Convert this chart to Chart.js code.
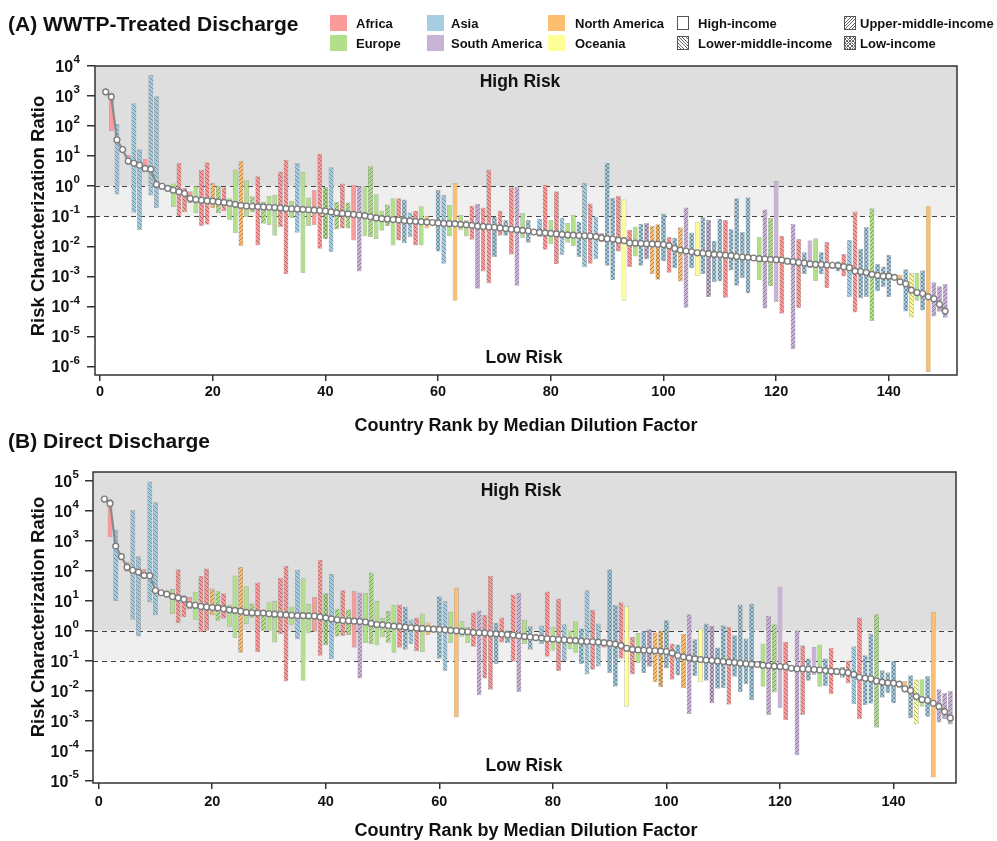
<!DOCTYPE html>
<html>
<head>
<meta charset="utf-8">
<script src="https://cdn.jsdelivr.net/npm/chart.js@4.4.0/dist/chart.umd.min.js"></script>
<style>
  body{margin:0;background:#fff;width:997px;height:841px;position:relative;overflow:hidden;font-family:"Liberation Sans",Arial,sans-serif;color:#111;}
  canvas{position:absolute;left:0;}
  .ttl{position:absolute;left:8px;font-weight:bold;font-size:21px;line-height:22px;white-space:nowrap;z-index:2;}
  .ytl{position:absolute;font-weight:bold;font-size:18.5px;line-height:20px;white-space:nowrap;transform:translate(-50%,-50%) rotate(-90deg);z-index:2;}
  .xtl{position:absolute;font-weight:bold;font-size:18px;line-height:20px;white-space:nowrap;transform:translate(-50%,-50%);z-index:2;}
  .lg{position:absolute;z-index:3;}
  .sw{position:absolute;}
  .lt{position:absolute;font-family:"Liberation Sans",Arial,sans-serif;font-weight:bold;font-size:13px;line-height:15px;white-space:nowrap;transform:translateY(-50%);}
</style>
</head>
<body>
<canvas id="cA" width="997" height="420" style="top:0"></canvas>
<canvas id="cB" width="997" height="421" style="top:420px"></canvas>

<div class="ttl" style="top:13px">(A) WWTP-Treated Discharge</div>
<div class="ttl" style="top:430px">(B) Direct Discharge</div>
<div class="ytl" style="left:38px;top:216px">Risk Characterization Ratio</div>
<div class="ytl" style="left:38px;top:617px">Risk Characterization Ratio</div>
<div class="xtl" style="left:526px;top:425px">Country Rank by Median Dilution Factor</div>
<div class="xtl" style="left:526px;top:830px">Country Rank by Median Dilution Factor</div>
<div id="legend" class="lg" style="left:0;top:0;width:997px;height:60px"></div>

<script>
// ---------------- DATA ----------------
const continentNames = {AF:'Africa', EU:'Europe', AS:'Asia', SA:'South America', NA:'North America', OC:'Oceania'};
const incomeNames = {H:'High-income', LM:'Lower-middle-income', UM:'Upper-middle-income', L:'Low-income'};

// continent of the country at each rank (rank 1..150)
const continent = [
'AF','AF','AS','AS','AF','AS','AS','AF','AS','AS',
'EU','EU','EU','AF','AF','AF','EU','AF','AF','NA',
'EU','AF','EU','EU','NA','EU','EU','AF','EU','EU',
'EU','AF','AF','EU','AS','EU','EU','AF','AF','EU',
'AS','EU','AF','EU','AF','SA','EU','EU','EU','EU',
'EU','EU','AF','AS','AS','AF','EU','NA','EU','AS',
'AS','EU','NA','EU','EU','AF','SA','AF','AF','AS',
'AF','AS','AF','SA','EU','AS','AS','AS','AF','EU',
'AF','AS','EU','EU','AS','AS','AF','AS','AF','AS',
'AS','AF','OC','AF','EU','AS','SA','NA','NA','AS',
'AF','AS','NA','SA','AS','OC','AS','SA','AS','AS',
'AF','AS','AS','AS','AS','AS','EU','SA','EU','SA',
'AF','AF','SA','AF','AS','SA','EU','AS','AF','AS',
'AS','AF','AS','AF','AS','AS','EU','AS','AS','AS',
'AS','NA','AS','OC','EU','AS','NA','SA','SA','SA'];

// income group at each rank: H high, LM lower-middle, UM upper-middle, L low
const income = [
'H','H','LM','H','H','LM','LM','H','LM','LM',
'H','H','H','LM','LM','H','H','LM','LM','UM',
'UM','LM','H','H','UM','H','UM','LM','UM','H',
'H','LM','LM','H','LM','H','H','H','LM','L',
'LM','UM','LM','UM','H','UM','H','UM','H','H',
'UM','H','LM','L','LM','LM','H','H','H','L',
'LM','H','H','H','H','LM','UM','LM','LM','L',
'LM','L','LM','UM','H','L','H','LM','LM','H',
'LM','LM','H','H','L','LM','LM','LM','H','L',
'L','LM','H','LM','H','L','L','UM','L','L',
'LM','L','UM','UM','L','H','L','L','L','L',
'LM','L','L','L','L','H','H','UM','UM','H',
'LM','H','UM','LM','L','H','H','L','LM','H',
'L','LM','LM','LM','L','L','UM','L','L','L',
'H','H','L','LM','H','L','H','UM','UM','UM'];

// (A) WWTP-treated discharge
const medianA = [
1380,940,35,16.6,6.9,5.8,5.0,3.9,3.7,1.15,
1.0,0.85,0.74,0.65,0.57,0.39,0.36,0.34,0.33,0.32,
0.30,0.29,0.27,0.25,0.23,0.22,0.215,0.21,0.205,0.20,
0.195,0.19,0.18,0.178,0.175,0.17,0.165,0.16,0.155,0.15,
0.14,0.13,0.125,0.12,0.115,0.11,0.105,0.096,0.088,0.083,
0.081,0.078,0.075,0.072,0.070,0.068,0.066,0.064,0.062,0.060,
0.058,0.057,0.056,0.054,0.052,0.050,0.047,0.046,0.044,0.043,
0.041,0.039,0.037,0.036,0.034,0.033,0.030,0.029,0.028,0.027,
0.026,0.025,0.024,0.0235,0.023,0.0225,0.022,0.021,0.019,0.018,
0.0175,0.016,0.0155,0.013,0.0128,0.0125,0.0122,0.012,0.0118,0.0115,
0.0105,0.0085,0.0075,0.0070,0.0066,0.0061,0.0059,0.0057,0.0054,0.0053,
0.0051,0.0049,0.0046,0.0044,0.0043,0.0041,0.0039,0.0038,0.0037,0.0036,
0.0035,0.0032,0.0031,0.0029,0.0028,0.0026,0.0025,0.0025,0.0024,0.00234,
0.00229,0.0021,0.00195,0.0015,0.00145,0.00135,0.00117,0.00108,0.00102,0.00102,
0.00093,0.00066,0.00057,0.00035,0.00029,0.00027,0.00021,0.00018,0.000118,0.00007];
const lowA = [
null,71,0.54,null,5.3,0.135,0.036,3.5,0.5,0.19,
null,null,0.21,0.10,0.14,0.28,0.13,0.049,0.054,0.19,
0.13,0.15,0.076,0.028,0.0105,0.095,0.14,0.011,0.058,0.053,
0.023,0.045,0.0012,0.09,0.029,0.0013,0.049,0.053,0.0085,0.018,
0.0066,0.037,0.04,0.04,0.016,0.0015,0.022,0.021,0.018,0.034,
0.049,0.011,0.016,0.013,0.021,0.011,0.011,0.04,null,0.0069,
0.0027,0.022,0.00016,0.035,0.022,0.017,0.0004,0.0015,0.0006,0.0045,
0.023,0.023,0.0054,0.0005,0.019,0.0135,null,0.021,0.0079,0.012,
0.0026,0.0053,0.0135,0.0105,0.0045,0.0021,0.0027,0.0038,0.014,0.0023,
0.00076,0.0069,0.00016,0.0021,0.0047,0.0023,0.0038,0.0012,0.0008,0.0033,
0.00135,0.0019,0.0007,0.000093,0.0019,0.00105,0.0012,0.00021,0.00066,0.0007,
0.0002,0.0016,0.0005,0.0009,0.00028,null,0.00076,0.000087,0.00048,0.000145,
0.000059,null,0.0000039,0.000091,0.0012,0.0019,0.00072,0.0012,0.00042,null,
0.0015,0.00102,0.00021,0.000065,0.00019,0.00021,0.000034,0.00033,0.00046,0.00021,
null,0.00052,0.00007,0.000044,0.00016,0.000076,0.00000068,0.000048,0.000068,0.000043];
const highA = [
null,1290,115,null,10.7,560,16.6,8,4900,960,
null,null,1.2,5.8,0.85,0.66,1.0,3.4,6.1,1.26,
1.0,0.9,0.39,3.5,6.9,1.55,0.45,2.1,0.30,0.46,
0.50,3.0,7.4,0.32,5.8,2.9,0.41,0.73,11.7,0.92,
4.2,0.29,1.2,0.28,1.1,1.0,1.0,4.5,0.53,0.15,
0.24,0.39,0.39,0.35,0.13,0.15,0.21,0.10,null,0.74,
0.5,0.23,1.25,0.11,0.074,0.22,0.25,0.19,3.5,0.095,
0.15,0.074,0.9,0.95,0.126,0.074,null,0.081,1.1,0.074,
0.66,0.089,0.058,0.11,0.066,1.25,0.26,0.096,0.027,5.8,
0.40,0.47,0.35,0.035,0.045,0.054,0.058,0.047,0.053,0.12,
0.02,0.019,0.042,0.19,0.028,0.063,0.092,0.076,0.015,0.081,
0.073,0.037,0.39,0.029,0.42,null,0.02,0.165,0.087,1.48,
0.022,null,0.055,0.017,0.0062,0.0155,0.018,0.0062,0.0135,null,
0.0031,0.0054,0.016,0.14,0.0081,0.043,0.18,0.0025,0.0021,0.0051,
null,0.0011,0.0017,0.00126,0.00126,0.00155,0.22,0.00062,0.00046,0.00055];

// (B) Direct discharge
const medianB = [
25000,17800,670,300,133,105,91,71,69,22,
18.6,16.7,14,12.6,11.2,7.4,7.1,6.5,6.2,6.0,
5.8,5.4,5.0,4.8,4.5,4.1,4.0,3.9,3.9,3.7,
3.6,3.5,3.4,3.3,3.2,3.2,3.15,3.1,2.9,2.7,
2.5,2.34,2.2,2.16,2.1,2.05,1.96,1.76,1.62,1.58,
1.5,1.43,1.40,1.33,1.26,1.23,1.2,1.17,1.13,1.11,
1.08,1.03,1.0,0.95,0.93,0.88,0.86,0.84,0.81,0.79,
0.77,0.74,0.72,0.68,0.65,0.62,0.59,0.57,0.54,0.53,
0.51,0.50,0.48,0.47,0.45,0.44,0.43,0.42,0.40,0.38,
0.36,0.32,0.26,0.24,0.23,0.226,0.22,0.215,0.21,0.204,
0.18,0.15,0.135,0.125,0.116,0.11,0.105,0.102,0.097,0.094,
0.09,0.087,0.083,0.079,0.077,0.075,0.071,0.069,0.066,0.064,
0.063,0.056,0.054,0.054,0.052,0.051,0.049,0.047,0.045,0.044,
0.043,0.040,0.035,0.028,0.026,0.025,0.021,0.0194,0.0183,0.0178,
0.0166,0.0116,0.0102,0.0064,0.0051,0.0048,0.0038,0.0030,0.0020,0.00124];
const lowB = [
null,1350,10.2,null,95,2.4,0.66,55,9.1,3.4,
null,null,3.7,1.85,2.9,5.4,2.4,0.91,1.02,3.4,
2.2,2.6,1.39,0.59,0.19,1.7,2.8,0.20,1.02,1.02,
0.42,0.79,0.021,1.62,0.54,0.022,0.85,0.96,0.15,0.34,
0.115,0.66,0.69,0.74,0.28,0.026,0.40,0.37,0.33,0.62,
0.41,0.19,0.28,0.24,0.37,0.21,0.20,0.74,null,0.12,
0.047,0.40,0.0013,0.65,0.40,0.30,0.0072,0.026,0.011,0.08,
0.42,0.40,0.095,0.0093,0.37,0.24,null,0.37,0.14,0.22,
0.047,0.098,0.25,0.19,0.08,0.036,0.051,0.066,0.28,0.04,
0.014,0.123,0.003,0.036,0.085,0.04,0.065,0.02,0.0137,0.057,
0.024,0.033,0.0126,0.0017,0.032,0.0195,0.022,0.0039,0.012,0.0126,
0.0035,0.03,0.0093,0.017,0.0049,null,0.0138,0.0016,0.0089,0.0027,
0.00107,null,0.000072,0.0016,0.022,0.034,0.0138,0.0148,0.0079,null,
0.028,0.018,0.0036,0.00115,0.0034,0.0038,0.0006,0.006,0.0085,0.0039,
null,0.0089,0.00123,0.00078,0.003,0.00138,0.000013,0.00089,0.00115,0.00076];
const highB = [
null,24500,2240,null,195,10500,300,112,93000,19000,
null,null,24,110,15,13,19.5,66,118,25,
20.5,17.6,7.4,68,134,30,7.9,40,4.8,8.7,
9.6,58,142,6.2,105,55,7.6,13,225,17.5,
76,5.2,22,5.0,21,18.6,18,86,9.6,2.6,
4.5,7.1,7.4,6.2,2.34,2.7,3.7,1.86,null,14,
9.6,4.2,27,2.05,1.32,4.0,4.6,3.3,66,1.8,
2.7,1.02,16,18,2.3,1.38,null,1.47,20,1.32,
11.7,1.62,1.02,2.05,1.17,22,4.9,1.7,0.42,110,
7.1,8.7,6.6,0.62,0.83,0.98,1.1,0.86,1.0,2.2,
0.37,0.34,0.76,3.5,0.51,1.17,1.7,1.44,0.27,1.5,
1.32,0.69,7.4,0.54,7.9,null,0.37,3.1,1.62,29,
0.42,null,1.02,0.32,0.116,0.28,0.34,0.116,0.26,null,
0.062,0.10,0.30,2.7,0.15,0.79,3.5,0.047,0.04,0.095,
null,0.0204,0.032,0.023,0.0235,0.03,4.2,0.011,0.0083,0.0096];

const xTicks = [0,20,40,60,80,100,120,140];
const yExpA = [-6,-5,-4,-3,-2,-1,0,1,2,3,4];
const yExpB = [-5,-4,-3,-2,-1,0,1,2,3,4,5];

// ---------------- STYLE ----------------
const COLORS = {AF:'#FB9A99', EU:'#B2DF8A', AS:'#A6CEE3', NA:'#FDBF6F', SA:'#CAB2D6', OC:'#FFFF99'};
const FONT = '"Liberation Sans", Arial, sans-serif';

function darker(hex, f){
  const n = parseInt(hex.slice(1),16);
  const r=(n>>16)&255, g=(n>>8)&255, b=n&255;
  return 'rgb('+Math.round(r*f)+','+Math.round(g*f)+','+Math.round(b*f)+')';
}
function makeFill(ctx2d, cont, inc){
  const base = COLORS[cont];
  if (inc === 'H') return base;
  const s = 4;
  const t = document.createElement('canvas'); t.width = s; t.height = s;
  const g = t.getContext('2d');
  g.fillStyle = base; g.fillRect(0,0,s,s);
  g.strokeStyle = darker(base, 0.6); g.lineWidth = 0.8;
  g.beginPath();
  if (inc === 'UM' || inc === 'L') { g.moveTo(-1,s+1); g.lineTo(s+1,-1); }
  if (inc === 'LM' || inc === 'L') { g.moveTo(-1,-1); g.lineTo(s+1,s+1); }
  g.stroke();
  return ctx2d.createPattern(t,'repeat');
}

const decor = {
  id:'decor',
  beforeDatasetsDraw(chart, args, o){
    const {ctx, chartArea:a, scales:{y}} = chart;
    const y1 = y.getPixelForValue(1), y01 = y.getPixelForValue(0.1);
    ctx.save();
    ctx.fillStyle = '#DEDEDE'; ctx.fillRect(a.left, a.top, a.right-a.left, y1-a.top);
    ctx.fillStyle = '#EFEFEF'; ctx.fillRect(a.left, y1, a.right-a.left, y01-y1);
    ctx.strokeStyle = '#444'; ctx.lineWidth = 1; ctx.setLineDash([5,4]);
    [y1,y01].forEach(v=>{ ctx.beginPath(); ctx.moveTo(a.left, Math.round(v)+0.5); ctx.lineTo(a.right, Math.round(v)+0.5); ctx.stroke(); });
    ctx.setLineDash([]);
    ctx.fillStyle = '#111'; ctx.font = 'bold 17.5px '+FONT; ctx.textAlign='center'; ctx.textBaseline='middle';
    ctx.fillText('High Risk', o.highX, o.highY);
    ctx.fillText('Low Risk', o.lowX, o.lowY);
    ctx.restore();
  },
  afterDatasetsDraw(chart, args, o){
    const {ctx, chartArea:a, scales:{y}} = chart;
    ctx.save();
    ctx.strokeStyle = '#333'; ctx.lineWidth = 1.5;
    ctx.strokeRect(a.left, a.top, a.right-a.left, a.bottom-a.top);
    ctx.fillStyle = '#111'; ctx.textBaseline = 'middle';
    o.yExp.forEach(e=>{
      const yy = y.getPixelForValue(Math.pow(10,e));
      const es = String(e);
      ctx.font = 'bold 11.5px '+FONT;
      const w = ctx.measureText(es).width;
      const xe = o.labelRight - w;
      ctx.textAlign = 'left'; ctx.fillText(es, xe, yy-6);
      ctx.font = 'bold 16px '+FONT;
      ctx.textAlign = 'right'; ctx.fillText('10', xe-0.5, yy+1.5);
    });
    ctx.restore();
  }
};

function buildChart(id, med, lo, hi, cfg){
  const canvas = document.getElementById(id);
  const ctx = canvas.getContext('2d');
  const cache = {};
  const fill = (c,inc)=>{ const k=c+inc; if(!cache[k]) cache[k]=makeFill(ctx,c,inc); return cache[k]; };
  const bars = [];
  med.forEach((m,i)=>{ if(lo[i]!=null && hi[i]!=null) bars.push({x:i+1, y:[lo[i],hi[i]], c:continent[i], inc:income[i]}); });
  const line = med.map((m,i)=>({x:i+1, y:m}));
  new Chart(ctx, {
    data:{datasets:[
      {type:'line', data:line, order:0, borderColor:'#8a8a8a', borderWidth:2.2, tension:0,
       pointRadius:2.9, pointBackgroundColor:'#ffffff', pointBorderColor:'#7c7c7c', pointBorderWidth:1.4},
      {type:'bar', data:bars, order:1, barThickness:4.3, grouped:false, borderSkipped:false,
       backgroundColor:(c)=> (c.raw ? fill(c.raw.c, c.raw.inc) : '#ccc'),
       borderColor:'rgba(110,110,110,0.45)', borderWidth:0.6}
    ]},
    options:{
      responsive:false, animation:false, devicePixelRatio:1,
      layout:{padding:{left:0, right:cfg.padRight, top:cfg.padTop, bottom:0}},
      plugins:{legend:{display:false}, tooltip:{enabled:false}, decor:cfg},
      scales:{
        x:{type:'linear', min:cfg.xmin, max:cfg.xmax, offset:false,
           afterBuildTicks:(s)=>{ s.ticks = xTicks.map(v=>({value:v})); },
           afterFit:(s)=>{ s.height = cfg.xH; },
           ticks:{font:{family:FONT, weight:'bold', size:14.5}, color:'#111', padding:cfg.xPad, maxRotation:0, autoSkip:false, callback:(v)=>String(v)},
           grid:{display:true, offset:false, drawOnChartArea:false, drawTicks:true, tickLength:6, color:'#333', lineWidth:1.5},
           border:{display:false}},
        y:{type:'logarithmic', min:cfg.ymin, max:cfg.ymax,
           afterBuildTicks:(s)=>{ s.ticks = cfg.yExp.map(e=>({value:Math.pow(10,e)})); },
           afterFit:(s)=>{ s.width = cfg.yW; },
           ticks:{callback:()=>'', padding:0},
           grid:{display:true, drawOnChartArea:false, drawTicks:true, tickLength:8, color:'#333', lineWidth:1.5},
           border:{display:false}}
      }
    },
    plugins:[decor]
  });
}

buildChart('cA', medianA, lowA, highA, {
  xmin:-0.9, xmax:152.1, ymin:Math.pow(10,-6.28), ymax:1e4, yExp:yExpA,
  padTop:66, padRight:40, yW:95, xH:45, xPad:2, labelRight:80,
  highX:520, highY:82.5, lowX:524, lowY:358.5
});
buildChart('cB', medianB, lowB, highB, {
  xmin:-1.0, xmax:151, ymin:Math.pow(10,-5.08), ymax:Math.pow(10,5.3), yExp:yExpB,
  padTop:52, padRight:41, yW:93, xH:58, xPad:4, labelRight:79,
  highX:521, highY:71, lowX:524, lowY:345.7
});

// ---------------- LEGEND (HTML) ----------------
(function(){
  const L = document.getElementById('legend');
  const contItems = [
    ['AF',330,23],['EU',330,42.5],['AS',427,23],['SA',427,42.5],['NA',548,23],['OC',548,42.5]
  ];
  contItems.forEach(([k,x,y])=>{
    const s = document.createElement('div'); s.className='sw';
    s.style.cssText = 'left:'+x+'px;top:'+(y-8)+'px;width:17px;height:16px;background:'+COLORS[k]+';';
    L.appendChild(s);
    const t = document.createElement('div'); t.className='lt';
    t.style.left = (x+(k==='NA'||k==='OC'?27:(k==='AF'||k==='EU'?26:24)))+'px'; t.style.top = y+'px'; t.textContent = continentNames[k];
    L.appendChild(t);
  });
  const patCSS = {
    H:'#fff',
    LM:'repeating-linear-gradient(45deg,#fff 0 1.6px,#666 1.6px 2.4px)',
    UM:'repeating-linear-gradient(-45deg,#fff 0 1.6px,#666 1.6px 2.4px)',
    L:'repeating-linear-gradient(45deg,transparent 0 1.6px,#666 1.6px 2.4px),repeating-linear-gradient(-45deg,#fff 0 1.6px,#666 1.6px 2.4px)'
  };
  const incItems = [['H',677,23],['LM',677,42.5],['UM',844,23],['L',844,42.5]];
  incItems.forEach(([k,x,y])=>{
    const s = document.createElement('div'); s.className='sw';
    s.style.cssText = 'left:'+x+'px;top:'+(y-7)+'px;width:10px;height:12px;border:1px solid #555;background:'+patCSS[k]+';';
    L.appendChild(s);
    const t = document.createElement('div'); t.className='lt';
    t.style.left = (x+(k==='H'||k==='LM'?21:16))+'px'; t.style.top = y+'px'; t.textContent = incomeNames[k];
    L.appendChild(t);
  });
})();
</script>
</body>
</html>
